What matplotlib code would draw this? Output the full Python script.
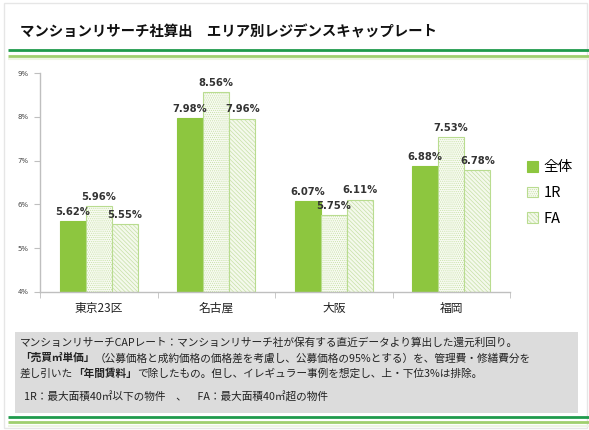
import numpy as np
import matplotlib.pyplot as plt
from matplotlib.patches import Rectangle

plt.rcParams['font.family'] = ['Noto Sans CJK JP', 'DejaVu Sans']
plt.rcParams['hatch.linewidth'] = 0.5

# data
areas = ["東京23区", "名古屋", "大阪", "福岡"]
series_names = ["全体", "1R", "FA"]
zentai = [5.62, 7.98, 6.07, 6.88]
one_r = [5.96, 8.56, 5.75, 7.53]
fa = [5.55, 7.96, 6.11, 6.78]
yticks = [4, 5, 6, 7, 8, 9]

title = "マンションリサーチ社算出　エリア別レジデンスキャップレート"
note_line1 = "マンションリサーチCAPレート：マンションリサーチ社が保有する直近データより算出した還元利回り。"
note_line2 = [("「売買㎡単価」", True),
              ("（公募価格と成約価格の価格差を考慮し、公募価格の95%とする）を、管理費・修繕費分を", False)]
note_line3 = [("差し引いた", False), ("「年間賃料」", True),
              ("で除したもの。但し、イレギュラー事例を想定し、上・下位3%は排除。", False)]
note_line4 = "1R：最大面積40㎡以下の物件　、　FA：最大面積40㎡超の物件"

W, H = 589, 430
fig = plt.figure(figsize=(W / 100, H / 100), dpi=100)
fig.patch.set_facecolor("white")

# background overlay in pixel coords
bg = fig.add_axes([0, 0, 1, 1])
bg.set_xlim(0, W)
bg.set_ylim(H, 0)
bg.axis("off")

bg.add_patch(Rectangle((4, 3), W - 6, H - 5, fill=False, edgecolor="#e6e6e6", lw=1))
bg.text(20, 32, title, fontsize=10.4, fontweight="bold", va="center", ha="left", color="#111111")
for y, c, lw in [(50, "#1f9a4c", 2.0), (55.5, "#9fcf6e", 2.0), (58.5, "#eef5e4", 1.5),
                 (417, "#1f9a4c", 2.0), (422, "#9fcf6e", 2.0), (426, "#eef5e4", 1.5)]:
    bg.plot([8, W], [y, y], color=c, lw=lw, solid_capstyle="butt")

bg.add_patch(Rectangle((15, 332), 563, 81, facecolor="#dcdcdc", edgecolor="none"))
fs_note = 7.7
bg.text(20, 343, note_line1, fontsize=fs_note, va="center", ha="left", color="#222222")


def rich_line(parts, x, y):
    prev = None
    for txt, bold in parts:
        kw = dict(fontsize=fs_note, color="#222222", fontweight="bold" if bold else "normal")
        if prev is None:
            prev = bg.text(x, y, txt, va="center", ha="left", **kw)
        else:
            prev = bg.annotate(txt, xy=(1, 0.5), xycoords=prev, va="center", ha="left", **kw)


rich_line(note_line2, 20, 358)
rich_line(note_line3, 20, 374)
bg.text(24, 397, note_line4, fontsize=fs_note, va="center", ha="left", color="#222222")

# chart axes
left, right, top, bottom = 40, 510, 73, 292
ax = fig.add_axes([left / W, 1 - bottom / H, (right - left) / W, (bottom - top) / H])
ax.set_facecolor("none")

x = np.arange(len(areas))
bw = 0.222
green = "#8dc63f"
edge = "#b9dc90"
b1 = ax.bar(x - bw, [v - 4 for v in zentai], bw, bottom=4, color=green, edgecolor=green, lw=0.8)
b2 = ax.bar(x, [v - 4 for v in one_r], bw, bottom=4, facecolor="#f8fbf2", edgecolor=edge,
            hatch="........", lw=0.8)
b3 = ax.bar(x + bw, [v - 4 for v in fa], bw, bottom=4, facecolor="#f4f9ec", edgecolor=edge,
            hatch="\\\\\\\\\\\\\\\\", lw=0.8)
for bars in (b2, b3):
    for p in bars:
        p._hatch_color = (0.78, 0.88, 0.65, 1.0)

for off, vals in [(-bw, zentai), (0, one_r), (bw, fa)]:
    for xi, v in zip(x, vals):
        ax.annotate(f"{v:.2f}%", xy=(xi + off, v), xytext=(0, 3), textcoords="offset points",
                    ha="center", va="bottom", fontsize=7.2, fontweight="bold", color="#333333",
                    family=["DejaVu Sans"])

ax.set_xlim(-0.5, len(areas) - 0.5)
ax.set_ylim(4, 9)
ax.set_yticks(yticks)
ax.set_yticklabels([f"{t}%" for t in yticks], fontsize=5, color="#444444", family=["DejaVu Sans"])
ax.set_xticks(x)
ax.set_xticklabels(areas, fontsize=8.5, color="#222222")
ax.tick_params(axis="x", length=0, pad=7)
ax.set_xticks(np.arange(-0.5, len(areas)), minor=True)
ax.tick_params(axis="x", which="minor", length=4, color="#bfbfbf", direction="out")
ax.tick_params(axis="y", length=4, color="#bfbfbf", direction="out", pad=4)
for s in ("top", "right"):
    ax.spines[s].set_visible(False)
for s in ("left", "bottom"):
    ax.spines[s].set_color("#bfbfbf")
    ax.spines[s].set_linewidth(1)

handles = [b1[0], b2[0], b3[0]]
fig.legend(handles, series_names, loc="center left", bbox_to_anchor=(514 / W, 1 - 193 / H),
           frameon=False, fontsize=10.5, handlelength=0.75, handleheight=0.75,
           labelspacing=0.8, handletextpad=0.4)

fig.savefig("out.png", dpi=100)
